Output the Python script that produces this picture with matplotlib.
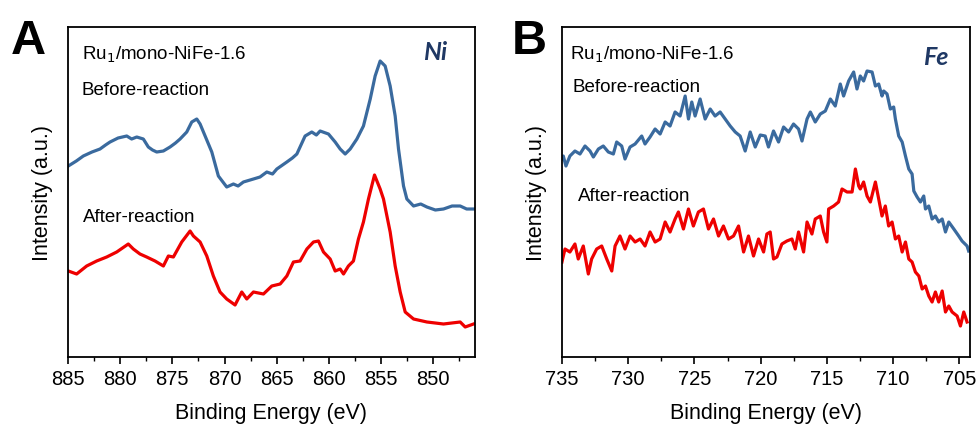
import matplotlib.pyplot as plt
from matplotlib.ticker import MultipleLocator

plt.rcParams['font.family'] = ['Liberation Sans', 'DejaVu Sans']

# === Ni 2p spectra (binding energy in eV, intensity in a.u.) ===
ni_energy_before = [884.97, 884.2, 883.53, 882.7, 881.93, 881.4, 880.97, 880.2, 879.37, 878.9,
                    878.41, 877.78, 877.30, 876.9, 876.50, 875.86, 875.22, 874.7, 874.26, 873.62,
                    873.14, 872.66, 872.34, 871.86, 871.22, 870.59, 869.79, 869.15, 868.7, 868.19,
                    867.23, 866.6, 865.95, 865.4, 864.99, 864.03, 863.5, 863.07, 862.28, 861.64,
                    861.2, 860.84, 860.04, 859.40, 858.92, 858.44, 857.96, 857.32, 856.69, 856.04,
                    855.57, 855.09, 854.61, 854.13, 853.65, 853.33, 852.85, 852.53, 851.89, 851.2,
                    850.61, 849.8, 849.02, 848.2, 847.42, 846.8, 846.14]
ni_before = [191, 196, 201, 205, 208, 212, 215, 219, 221, 218,
             220, 218, 210, 207, 205, 206, 210, 214, 218, 225,
             235, 238, 233, 221, 205, 181, 170, 173, 171, 175,
             178, 180, 185, 183, 188, 195, 199, 203, 221, 225,
             222, 226, 223, 215, 208, 203, 208, 218, 231, 258,
             281, 296, 291, 271, 241, 208, 171, 158, 151, 153,
             150, 147, 148, 151, 151, 148, 148]

ni_energy_after = [884.97, 884.17, 883.21, 882.25, 881.29, 880.33, 879.22, 878.74, 878.10, 877.46,
                   876.66, 875.86, 875.38, 874.90, 874.10, 873.30, 872.98, 872.34, 871.70, 871.07,
                   870.43, 869.79, 868.99, 868.35, 867.87, 867.23, 866.27, 865.47, 864.67, 864.03,
                   863.40, 862.76, 862.11, 861.48, 861.00, 860.52, 859.88, 859.40, 858.92, 858.60,
                   858.13, 857.65, 857.17, 856.69, 856.21, 855.63, 855.09, 854.77, 854.13, 853.65,
                   853.17, 852.69, 851.89, 850.61, 849.02, 847.42, 846.94, 846.14]
ni_after = [86, 83, 91, 96, 100, 105, 113, 108, 103, 100,
            96, 91, 101, 100, 115, 126, 121, 115, 101, 81,
            65, 58, 52, 65, 58, 65, 63, 71, 73, 81,
            95, 96, 108, 115, 116, 105, 98, 86, 88, 83,
            91, 96, 118, 135, 158, 182, 168, 158, 125, 91,
            65, 45, 38, 35, 33, 35, 30, 33]

# === Fe 2p spectra ===
fe_energy_before = [735.0, 734.90, 734.70, 734.40, 734.02, 733.64, 733.26, 732.88, 732.63, 732.25,
                    731.88, 731.50, 731.12, 730.87, 730.49, 730.24, 729.86, 729.48, 728.98, 728.73,
                    728.35, 727.97, 727.59, 727.21, 726.84, 726.46, 726.08, 725.70, 725.45, 725.20,
                    724.95, 724.57, 724.19, 723.81, 723.44, 723.06, 722.68, 722.30, 721.92, 721.55,
                    721.17, 720.79, 720.41, 720.03, 719.66, 719.41, 719.03, 718.65, 718.27, 717.89,
                    717.52, 717.14, 716.88, 716.50, 716.25, 715.88, 715.50, 715.12, 714.74, 714.37,
                    713.99, 713.74, 713.36, 712.98, 712.73, 712.48, 712.23, 711.97, 711.59, 711.34,
                    711.09, 710.84, 710.71, 710.46, 710.21, 709.96, 709.83, 709.58, 709.32, 709.07,
                    708.82, 708.57, 708.44, 708.19, 707.94, 707.69, 707.56, 707.31, 707.06, 706.81,
                    706.56, 706.30, 706.05, 705.80, 705.42, 705.05, 704.80, 704.42, 704.30]
fe_before = [198, 201, 191, 201, 206, 203, 211, 206, 200, 208,
             211, 205, 203, 215, 211, 198, 210, 213, 221, 213,
             220, 228, 223, 235, 231, 245, 241, 261, 238, 255,
             241, 258, 238, 248, 241, 245, 238, 231, 225, 221,
             206, 225, 210, 222, 221, 210, 226, 215, 230, 225,
             233, 228, 216, 238, 245, 235, 243, 246, 258, 251,
             273, 261, 276, 285, 268, 281, 276, 286, 285, 271,
             273, 261, 266, 263, 248, 250, 238, 221, 215, 201,
             188, 183, 166, 160, 155, 161, 148, 151, 138, 141,
             135, 138, 125, 135, 128, 121, 116, 111, 106]

fe_energy_after = [735.0, 734.95, 734.77, 734.40, 734.02, 733.77, 733.39, 733.01, 732.76, 732.38,
                   732.00, 731.62, 731.24, 730.99, 730.62, 730.24, 729.86, 729.48, 729.10, 728.73,
                   728.35, 727.97, 727.59, 727.21, 726.84, 726.46, 726.21, 725.83, 725.45, 725.08,
                   724.70, 724.32, 723.94, 723.56, 723.18, 722.81, 722.43, 722.05, 721.67, 721.29,
                   720.92, 720.54, 720.16, 719.78, 719.53, 719.28, 719.03, 718.77, 718.40, 718.02,
                   717.64, 717.39, 717.14, 716.76, 716.50, 716.13, 715.88, 715.50, 715.25, 715.00,
                   714.87, 714.49, 714.12, 713.86, 713.48, 713.10, 712.85, 712.60, 712.48, 712.23,
                   711.97, 711.72, 711.34, 711.09, 710.84, 710.59, 710.34, 710.08, 709.83, 709.58,
                   709.32, 709.07, 708.82, 708.57, 708.32, 708.06, 707.81, 707.56, 707.31, 707.06,
                   706.81, 706.56, 706.30, 706.05, 705.80, 705.55, 705.17, 704.92, 704.67, 704.42]
fe_after = [95, 98, 108, 105, 113, 98, 111, 83, 98, 108,
            111, 98, 86, 111, 121, 108, 121, 115, 118, 111,
            125, 115, 118, 135, 125, 138, 145, 128, 148, 131,
            145, 148, 128, 138, 121, 131, 118, 121, 131, 105,
            121, 101, 118, 105, 123, 125, 98, 100, 113, 116,
            118, 108, 125, 105, 135, 123, 138, 141, 125, 115,
            148, 151, 155, 168, 165, 165, 188, 171, 168, 175,
            161, 155, 175, 158, 141, 151, 131, 135, 118, 121,
            105, 115, 98, 95, 85, 81, 68, 71, 61, 55,
            65, 55, 66, 45, 51, 45, 41, 31, 45, 35]

blue = "#3A6A9E"
red = "#EE0000"
navy = "#1F3864"

fig = plt.figure(figsize=(9.78, 4.27), dpi=100)
ax_a = fig.add_axes([0.0695, 0.1616, 0.4162, 0.7728])
ax_b = fig.add_axes([0.5746, 0.1616, 0.4172, 0.7728])

panels = [
    (ax_a, ni_energy_before, ni_before, ni_energy_after, ni_after, (885, 846)),
    (ax_b, fe_energy_before, fe_before, fe_energy_after, fe_after, (735, 704.2)),
]

for ax, eb, ib, ea, ia, xlim in panels:
    ax.plot(eb, ib, color=blue, lw=2.3)
    ax.plot(ea, ia, color=red, lw=2.3)
    ax.set_xlim(*xlim)
    ax.set_ylim(0, 330)
    ax.xaxis.set_major_locator(MultipleLocator(5))
    ax.xaxis.set_minor_locator(MultipleLocator(2.5))
    ax.tick_params(axis="x", which="major", direction="out", length=5, width=1.2,
                   labelsize=14.5, pad=4)
    ax.tick_params(axis="x", which="minor", direction="out", length=3, width=1.0)
    ax.set_yticks([])
    for sp in ax.spines.values():
        sp.set_linewidth(1.3)
    ax.set_xlabel("Binding Energy (eV)", fontsize=15.5, labelpad=10)
    ax.set_ylabel("Intensity (a.u.)", fontsize=15.5, labelpad=11)

# element labels
ax_a.text(0.931, 0.926, "Ni", transform=ax_a.transAxes, ha="right", va="center",
          fontsize=18, fontweight="bold", style="italic", color=navy, family="Lato")
ax_b.text(0.946, 0.912, "Fe", transform=ax_b.transAxes, ha="right", va="center",
          fontsize=18, fontweight="bold", style="italic", color=navy, family="Lato")

# panel letters
fig.text(0.0113, 0.8735, "A", fontsize=35, fontweight="bold", va="baseline")
fig.text(0.5235, 0.8735, "B", fontsize=35, fontweight="bold", va="baseline")

# sample name and condition labels
fs = 13.5
ax_a.text(0.034, 0.918, "Ru$_1$/mono-NiFe-1.6", transform=ax_a.transAxes, fontsize=fs, va="center")
ax_a.text(0.034, 0.812, "Before-reaction", transform=ax_a.transAxes, fontsize=fs, va="center")
ax_a.text(0.037, 0.427, "After-reaction", transform=ax_a.transAxes, fontsize=fs, va="center")

ax_b.text(0.02, 0.918, "Ru$_1$/mono-NiFe-1.6", transform=ax_b.transAxes, fontsize=fs, va="center")
ax_b.text(0.025, 0.82, "Before-reaction", transform=ax_b.transAxes, fontsize=fs, va="center")
ax_b.text(0.039, 0.488, "After-reaction", transform=ax_b.transAxes, fontsize=fs, va="center")

fig.savefig("out.png", dpi=100)
